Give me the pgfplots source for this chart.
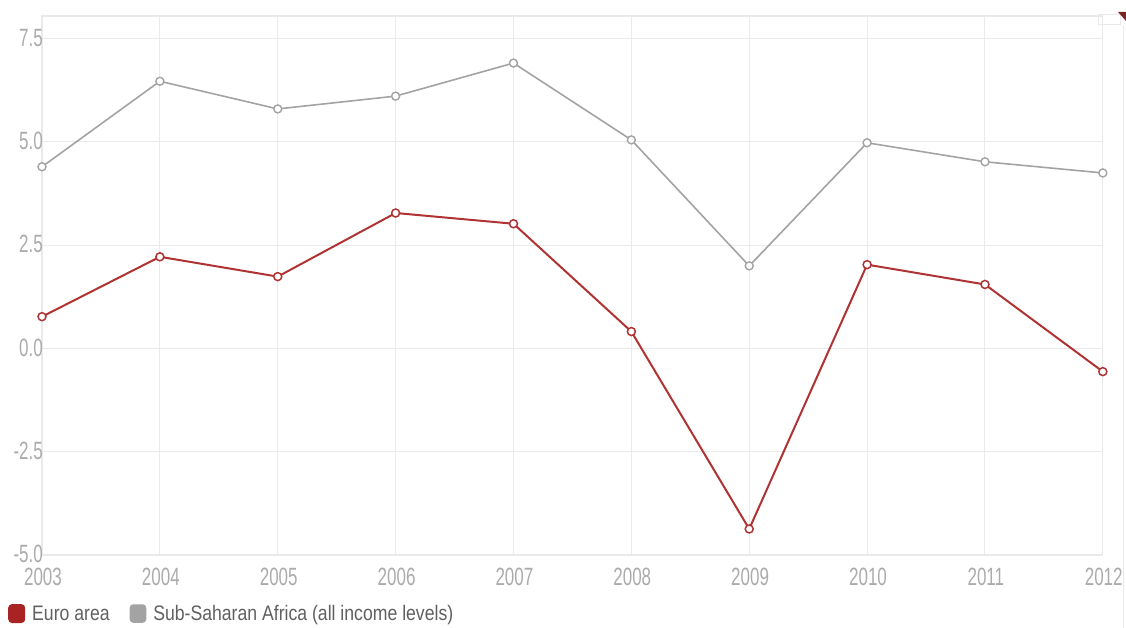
\documentclass[border=0pt]{standalone}
\usepackage{fontspec}
\setmainfont{Liberation Sans}[FakeStretch=0.84]
\newfontfamily\tickfont{Liberation Sans}[FakeStretch=0.68]
\usepackage{pgfplots}
\pgfplotsset{compat=1.18}
\definecolor{euro}{HTML}{B03333}
\definecolor{eurolg}{HTML}{A82424}
\definecolor{ssa}{HTML}{A3A3A3}
\definecolor{gridc}{HTML}{EAEAEA}
\definecolor{tickc}{HTML}{ABABAB}
\definecolor{legtext}{HTML}{606060}
\begin{document}
\begin{tikzpicture}[x=1pt,y=1pt]
\path[use as bounding box] (0,0) rectangle (1126,628);
\begin{axis}[
  scale only axis,
  width=1061pt, height=539pt,
  at={(42pt,73pt)}, anchor=south west,
  xmin=2003, xmax=2012,
  ymin=-5, ymax=8.05,
  xtick={2003,...,2012},
  ytick={-5,-2.5,0,2.5,5,7.5},
  grid=major,
  major grid style={gridc, line width=1pt},
  axis line style={gridc, line width=1.2pt},
  major tick length=0pt,
  tick label style={font=\tickfont\fontsize{25}{25}\selectfont, text=tickc},
  /pgf/number format/assume math mode=true,
  xticklabel style={/pgf/number format/1000 sep={}, inner sep=0pt, anchor=north, yshift=-12.5pt, xshift=1pt},
  yticklabel style={/pgf/number format/fixed, /pgf/number format/precision=1, /pgf/number format/fixed zerofill, inner sep=0pt, anchor=east, xshift=1pt, yshift=1pt},
  legend style={draw=none, fill=none, inner sep=0pt, at={(rel axis cs:0,0)}, anchor=north west, xshift=-34pt, yshift=-48pt,
    font=\fontsize{21}{21}\selectfont, text=legtext,
    /tikz/every odd column/.append style={column sep=5pt},
    /tikz/every even column/.append style={column sep=18pt}},
  legend columns=2,
  legend cell align=left,
  clip=false,
]
\addplot[euro, line width=2pt, mark=*, mark size=4pt, mark options={fill=white, draw=euro, line width=1.5pt}, legend image code/.code={\fill[eurolg, rounded corners=3pt] (0pt,-8.5pt) rectangle (15pt,8.5pt);}] coordinates {
(2003,0.77) (2004,2.22) (2005,1.74) (2006,3.28) (2007,3.02) (2008,0.41) (2009,-4.37) (2010,2.03) (2011,1.55) (2012,-0.56)};
\addlegendentry{Euro area}
\addplot[ssa, line width=1.6pt, mark=*, mark size=4pt, mark options={fill=white, draw=ssa, line width=1.4pt}, legend image code/.code={\fill[ssa, rounded corners=3pt] (0pt,-8.5pt) rectangle (15pt,8.5pt);}] coordinates {
(2003,4.40) (2004,6.47) (2005,5.80) (2006,6.11) (2007,6.91) (2008,5.05) (2009,2.00) (2010,4.98) (2011,4.52) (2012,4.25)};
\addlegendentry{Sub-Saharan Africa (all income levels)}
\end{axis}
\draw[gridc, line width=1pt] (1123,0) -- (1123,603);
\draw[gridc, line width=1pt] (1098,603) rectangle (1120,613);
\fill[euro!70!black] (1118,616) -- (1126,616) -- (1126,607) -- cycle;
\end{tikzpicture}
\end{document}
